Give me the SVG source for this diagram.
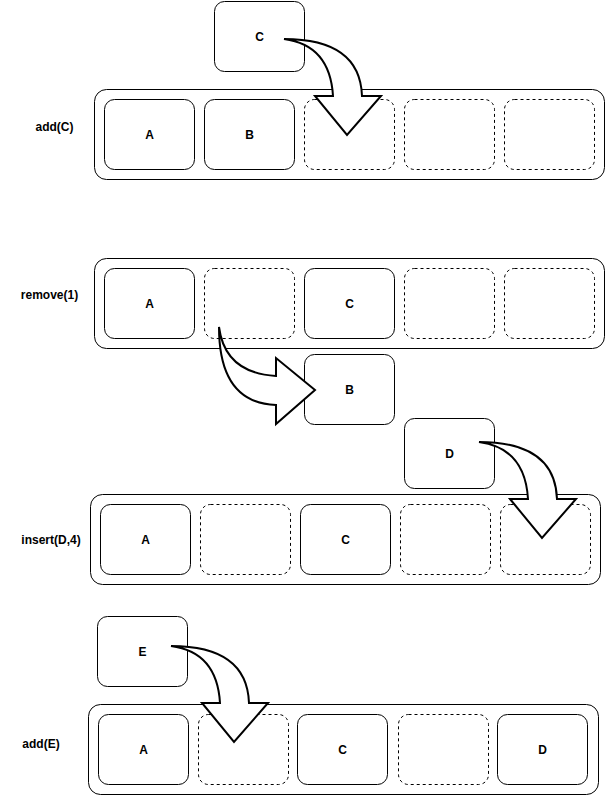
<svg xmlns="http://www.w3.org/2000/svg" width="605" height="800" viewBox="0 0 605 800">
<style>
.bg{fill:#fff}
.cont{fill:#fff;stroke:#000;stroke-width:1}
.cell{fill:#fff;stroke:#000;stroke-width:1}
.empty{fill:#fff;stroke:#000;stroke-width:1;stroke-dasharray:3 3}
.arrow{fill:#fff;stroke:#000;stroke-width:2;stroke-linejoin:miter}
.t{font-family:"Liberation Sans",Arial,Helvetica,sans-serif;font-size:12px;font-weight:bold;fill:#000;text-anchor:middle}
</style>
<defs>
<path id="carrow" d="M0 0 Q76 0 78 57 L97 57 L63 96 L31 57 L49 57 Q46 6 0 0 Z"/>
</defs>
<rect class="bg" x="0" y="0" width="605" height="800"/>

<g id="row1">
<rect class="cont" x="94.5" y="89.5" width="510" height="90" rx="12"/>
<g id="r1-A"><rect class="cell" x="104.5" y="99.5" width="90" height="70" rx="10"/><text class="t" x="149.5" y="139">A</text></g>
<g id="r1-B"><rect class="cell" x="204.5" y="99.5" width="90" height="70" rx="10"/><text class="t" x="249.5" y="139">B</text></g>
<g id="r1-3"><rect class="empty" x="304.5" y="99.5" width="90" height="70" rx="10"/></g>
<g id="r1-4"><rect class="empty" x="404.5" y="99.5" width="90" height="70" rx="10"/></g>
<g id="r1-5"><rect class="empty" x="504.5" y="99.5" width="90" height="70" rx="10"/></g>
</g>
<g id="nodeC"><rect class="cell" x="214.5" y="1.5" width="90" height="70" rx="10"/><text class="t" x="259.5" y="40.5">C</text></g>
<text class="t" x="54.5" y="131">add(C)</text>

<g id="row2">
<rect class="cont" x="94.5" y="258.5" width="510" height="90" rx="12"/>
<g id="r2-A"><rect class="cell" x="104.5" y="268.5" width="90" height="70" rx="10"/><text class="t" x="149.5" y="308">A</text></g>
<g id="r2-2"><rect class="empty" x="204.5" y="268.5" width="90" height="70" rx="10"/></g>
<g id="r2-C"><rect class="cell" x="304.5" y="268.5" width="90" height="70" rx="10"/><text class="t" x="349.5" y="308">C</text></g>
<g id="r2-4"><rect class="empty" x="404.5" y="268.5" width="90" height="70" rx="10"/></g>
<g id="r2-5"><rect class="empty" x="504.5" y="268.5" width="90" height="70" rx="10"/></g>
</g>
<g id="nodeB"><rect class="cell" x="304.5" y="354.5" width="90" height="70" rx="10"/><text class="t" x="349.5" y="394">B</text></g>
<text class="t" x="49.5" y="299">remove(1)</text>

<g id="nodeD"><rect class="cell" x="404.5" y="418.5" width="90" height="70" rx="10"/><text class="t" x="449.5" y="458">D</text></g>

<g id="row3">
<rect class="cont" x="90.5" y="494.5" width="510" height="90" rx="12"/>
<g id="r3-A"><rect class="cell" x="100.5" y="504.5" width="90" height="70" rx="10"/><text class="t" x="145.5" y="544">A</text></g>
<g id="r3-2"><rect class="empty" x="200.5" y="504.5" width="90" height="70" rx="10"/></g>
<g id="r3-C"><rect class="cell" x="300.5" y="504.5" width="90" height="70" rx="10"/><text class="t" x="345.5" y="544">C</text></g>
<g id="r3-4"><rect class="empty" x="400.5" y="504.5" width="90" height="70" rx="10"/></g>
<g id="r3-5"><rect class="empty" x="500.5" y="504.5" width="90" height="70" rx="10"/></g>
</g>
<text class="t" x="51" y="543.5">insert(D,4)</text>

<g id="nodeE"><rect class="cell" x="97.5" y="616.5" width="90" height="70" rx="10"/><text class="t" x="142.5" y="656">E</text></g>

<g id="row4">
<rect class="cont" x="88.5" y="704.5" width="510" height="90" rx="12"/>
<g id="r4-A"><rect class="cell" x="98.5" y="714.5" width="90" height="70" rx="10"/><text class="t" x="143.5" y="754">A</text></g>
<g id="r4-2"><rect class="empty" x="198.5" y="714.5" width="90" height="70" rx="10"/></g>
<g id="r4-C"><rect class="cell" x="297.5" y="714.5" width="90" height="70" rx="10"/><text class="t" x="342.5" y="754">C</text></g>
<g id="r4-4"><rect class="empty" x="398.5" y="714.5" width="90" height="70" rx="10"/></g>
<g id="r4-D"><rect class="cell" x="497.5" y="714.5" width="90" height="70" rx="10"/><text class="t" x="542.5" y="754">D</text></g>
</g>
<text class="t" x="41" y="748">add(E)</text>

<g id="connectors">
<use class="arrow" href="#carrow" transform="translate(284 39)"/>
<use class="arrow" href="#carrow" transform="matrix(0 1 1 0 219 327)"/>
<use class="arrow" href="#carrow" transform="translate(479 442)"/>
<use class="arrow" href="#carrow" transform="translate(171 646)"/>
</g>
</svg>
